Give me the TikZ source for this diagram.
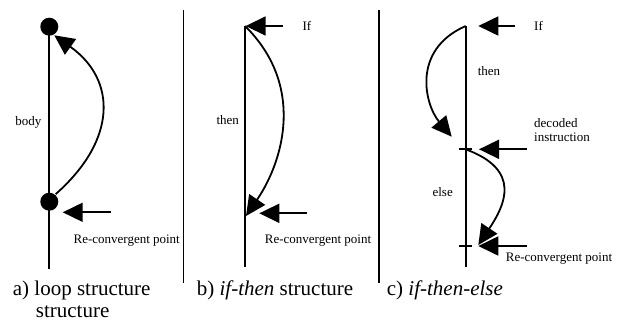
\documentclass[tikz,border=0pt]{standalone}
\usepackage{fontspec}
\setmainfont{Liberation Serif}
\usepackage{tikz}
\usetikzlibrary{arrows.meta}

\begin{document}
\begin{tikzpicture}[x=1pt,y=-1pt,line width=1.8pt,
  big/.style={-{Triangle[length=20pt,width=19pt]}},
  dot/.style={circle,fill,inner sep=0pt,minimum size=18pt},
  lab/.style={font=\fontsize{13}{15}\selectfont,inner sep=0pt,anchor=base west},
  captxt/.style={font=\fontsize{21}{24}\selectfont,inner sep=0pt,anchor=base west}]
\useasboundingbox (0,0) rectangle (621,322);
% separators
\foreach \sx in {183.5,379.3}{\draw (\sx,10)--(\sx,283);}
% a) loop
\draw (49.3,27)--(49.3,269);
\node[dot] (atop) at (49.3,26.7) {};
\node[dot] (abot) at (49.3,201.7) {};
\draw[big] (abot.50) .. controls (117,140) and (117,80) .. (atop.-60);
\coordinate (aR) at (111,212.3);
\coordinate (aL) at (62.7,212.3);
\draw[big] (aR)--(aL);
\node[lab,anchor=base] (abody) at (28.3,125) {body};
\node[lab] (are) at (72.7,243.3) {Re-convergent point};
\node[captxt] (acap) at (12,295) {a) loop structure};
\node[captxt] (acap2) at (35,317) {structure};
% b) if-then
\draw (245,26)--(245,267);
\coordinate (bif) at (245,26);
\coordinate (bend) at (246,216);
\draw[big] (bif) .. controls (305,85) and (284,160) .. (bend);
\coordinate (bifR) at (282.7,26);
\coordinate (bifL) at (245.7,26);
\draw[big] (bifR)--(bifL);
\coordinate (bR) at (306.7,213.3);
\coordinate (bL) at (259.3,213.3);
\draw[big] (bR)--(bL);
\node[lab] (bIf) at (301.7,30.7) {If};
\node[lab,anchor=base] (bthen) at (227.7,124) {then};
\node[lab] (bre) at (264,243.3) {Re-convergent point};
\node[captxt] (bcap) at (196,295) {b) \textit{if-then} structure};
% c) if-then-else
\draw (465.7,26)--(465.7,267);
\foreach \ty in {149.3,246}{\draw (459.3,\ty)--(472,\ty);}
\coordinate (cif) at (465.7,26);
\coordinate (cthen) at (451.7,136.7);
\coordinate (cdec) at (465.7,149.3);
\coordinate (celse) at (478.3,245);
\draw[big] (cif) .. controls (411,50) and (425,105) .. (cthen);
\draw[big] (cdec) .. controls (522,170) and (505,205) .. (celse);
\coordinate (cifR) at (515,26);
\coordinate (cifL) at (478.3,26);
\draw[big] (cifR)--(cifL);
\coordinate (cdR) at (526.7,149.3);
\coordinate (cdL) at (479,149.3);
\draw[big] (cdR)--(cdL);
\coordinate (cR) at (526.7,246);
\coordinate (cL) at (478.3,246);
\draw[big] (cR)--(cL);
\node[lab] (cIf) at (533.3,30.7) {If};
\node[lab,anchor=base] (cthenl) at (489,75) {then};
\node[lab] (cdec1) at (533.3,127.7) {decoded};
\node[lab] (cdec2) at (533.3,141.7) {instruction};
\node[lab,anchor=base] (celsel) at (442.7,196) {else};
\node[lab] (cre) at (505,261) {Re-convergent point};
\node[captxt] (ccap) at (386,295) {c) \textit{if-then-else}};
\end{tikzpicture}
\end{document}
